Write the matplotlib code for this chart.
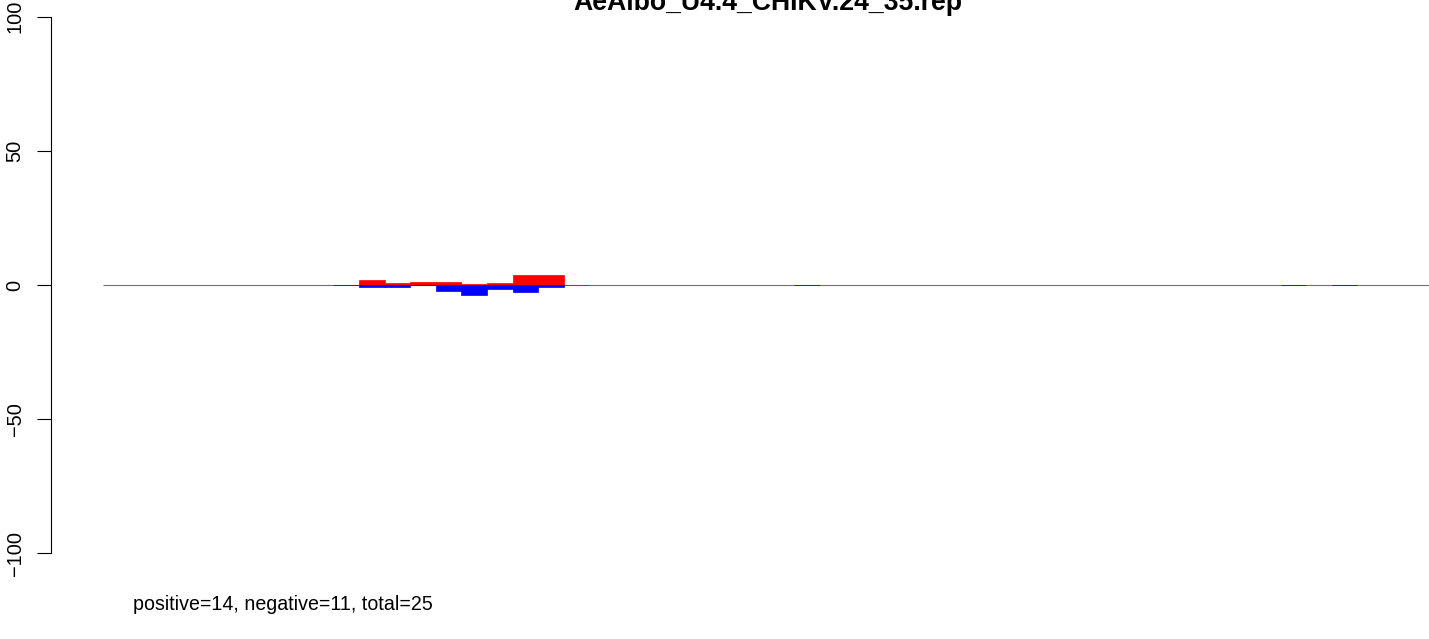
import matplotlib
matplotlib.use("Agg")
import matplotlib.pyplot as plt

plt.rcParams["font.family"] = ["Liberation Sans", "DejaVu Sans"]

TITLE = "AeAlbo_U4.4_CHIKV.24_35.rep"
NOTE = "positive=14, negative=11, total=25"

# bar slots (one slot per bar) and heights
pos_slots = [10, 11, 12, 13, 14, 15, 16, 17, 18]
pos_vals = [1.9, 0.75, 1.1, 1.1, 0.4, 0.75, 3.7, 3.7, 0.15]
neg_slots = [9, 10, 11, 12, 13, 14, 15, 16, 17, 27, 46, 48]
neg_vals = [-0.15, -0.75, -0.75, -0.15, -2.2, -3.7, -1.5, -2.6, -0.75,
            -0.15, -0.15, -0.15]
y_ticks = [-100, -50, 0, 50, 100]
n_slots = 54

W, H = 1429, 639
fig = plt.figure(figsize=(W / 100, H / 100), dpi=100)
# axes reach past the right edge, as in the reference
ax = fig.add_axes([51 / W, 1 - 564 / H, (1485 - 51) / W, (564 - 6) / H])

ax.hlines(0, 0, n_slots, color="#707070", lw=0.8, zorder=1)
ax.bar(pos_slots, pos_vals, width=1, align="edge", color="#ff0000",
       edgecolor="#ff0000", lw=0.5, zorder=2)
ax.bar(neg_slots, neg_vals, width=1, align="edge", color="#0000ff",
       edgecolor="#0000ff", lw=0.5, zorder=2)

ax.set_xlim(-2.03, 53.98)
ax.set_ylim(-104, 104)
for s in ["top", "right", "bottom"]:
    ax.spines[s].set_visible(False)
ax.spines["left"].set_bounds(-100, 100)
ax.spines["left"].set_linewidth(0.8)
ax.set_xticks([])
ax.set_yticks(y_ticks, [str(v).replace("-", "\u2212") for v in y_ticks])
ax.tick_params(axis="y", length=10, width=0.8, pad=9, labelsize=14.4)
for lab in ax.get_yticklabels():
    lab.set_rotation(90)
    lab.set_va("center")

# title sits partly above the top edge, as in the reference
fig.text(768 / W, 1 - 10 / H, TITLE, ha="center", va="baseline",
         fontsize=19.2, fontweight="bold")
fig.text(133 / W, 1 - 610 / H, NOTE, ha="left", va="baseline", fontsize=14.1)

fig.savefig("out.png", dpi=100)
